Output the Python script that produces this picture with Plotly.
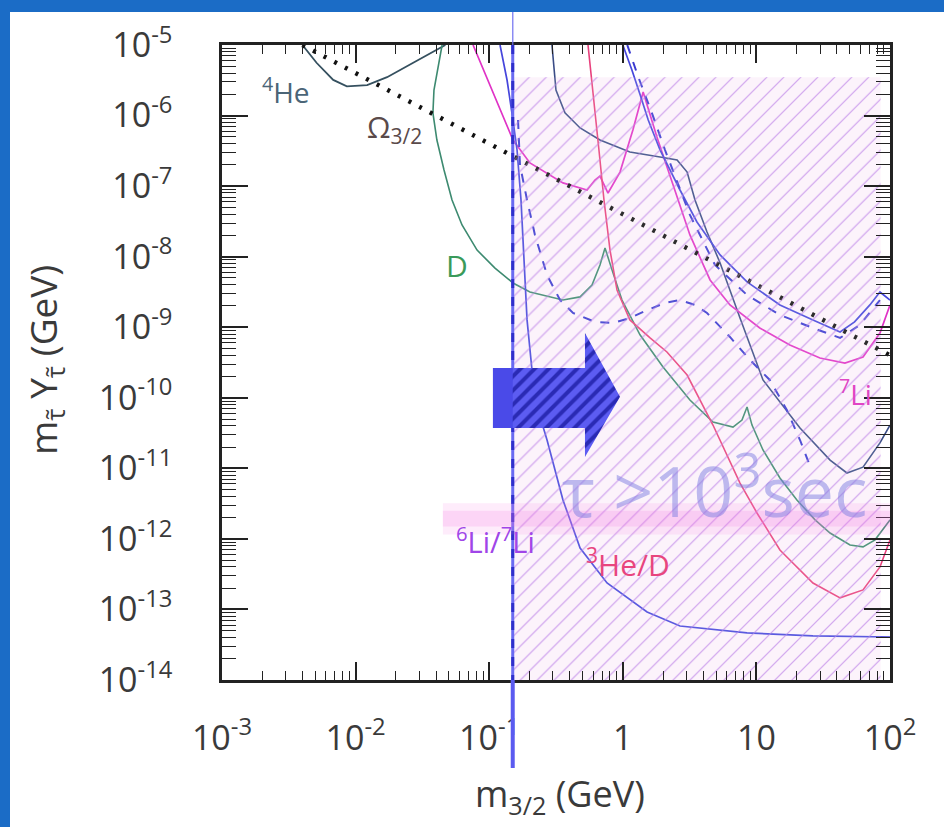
import math
import plotly.graph_objects as go

# ---------------- data ----------------
x_tick_vals = [1e-3, 1e-2, 1e-1, 1, 10, 100]
x_tick_text = ["10<sup>-3</sup>", "10<sup>-2</sup>", "10<sup>-1</sup>", "1", "10", "10<sup>2</sup>"]
y_tick_vals = [1e-5, 1e-6, 1e-7, 1e-8, 1e-9, 1e-10, 1e-11, 1e-12, 1e-13, 1e-14]
y_tick_text = ["10<sup>-5</sup>", "10<sup>-6</sup>", "10<sup>-7</sup>", "10<sup>-8</sup>", "10<sup>-9</sup>",
               "10<sup>-10</sup>", "10<sup>-11</sup>", "10<sup>-12</sup>", "10<sup>-13</sup>", "10<sup>-14</sup>"]

he4_x = [0.0040, 0.0051, 0.0068, 0.0086, 0.0122, 0.0172, 0.027, 0.047]
he4_y = [1.0e-5, 5.6e-6, 3.2e-6, 2.6e-6, 2.7e-6, 3.5e-6, 5.6e-6, 1.0e-5]

omega_x = [0.004, 100]
omega_y = [1.0e-5, 4.0e-10]

d_x = [0.0444, 0.0386, 0.0379, 0.0406, 0.0459, 0.0527, 0.0626, 0.0811, 0.1105, 0.1507,
       0.2018, 0.3565, 0.479, 0.588, 0.675, 0.736, 0.830, 0.986, 1.345, 2.0,
       3.18, 4.73, 6.68, 7.80, 8.51, 9.27, 11.2, 15.0, 20.1, 27.5,
       35.6, 50.2, 62.8, 77.3, 100]
d_y = [1.0e-5, 2.3e-6, 1.09e-6, 4.5e-7, 1.69e-7, 6.35e-8, 2.81e-8, 1.24e-8, 6.9e-9, 4.24e-9,
       3.16e-9, 2.43e-9, 2.69e-9, 3.97e-9, 7.6e-9, 1.33e-8, 6.5e-9, 2.43e-9, 7.8e-10, 2.73e-10,
       9.3e-11, 4.54e-11, 3.85e-11, 4.84e-11, 7.4e-11, 4.1e-11, 1.82e-11, 7.3e-12, 3.56e-12, 1.86e-12,
       1.21e-12, 8.2e-13, 7.7e-13, 9.7e-13, 1.86e-12]

li7_x = [0.0757, 0.1014, 0.1313, 0.1507, 0.2018, 0.3565, 0.540, 0.619, 0.675, 0.723,
         0.775, 0.953, 1.19, 1.42, 1.80, 2.38, 3.18, 4.50, 6.34, 10.6,
         17.8, 29.9, 46.0, 62.8, 84.1, 100]
li7_y = [1.0e-5, 2.71e-6, 8.65e-7, 4.51e-7, 2.13e-7, 1.11e-7, 8.81e-8, 1.22e-7, 1.39e-7, 1.04e-7,
         7.98e-8, 1.58e-7, 6.24e-7, 2.16e-6, 4.97e-7, 1.04e-7, 2.03e-8, 4.68e-9, 2.07e-9, 9.75e-10,
         5.6e-10, 3.66e-10, 3.11e-10, 3.78e-10, 8.28e-10, 2.07e-9]

he3d_x = [0.549, 0.609, 0.663, 0.723, 0.802, 0.905, 1.13, 1.60, 2.14, 3.03,
          4.73, 7.54, 10.1, 15.0, 26.5, 42.3, 62.8, 84.1, 100]
he3d_y = [1.0e-5, 1.66e-6, 3.25e-7, 6.35e-8, 1.24e-8, 3.37e-9, 1.27e-9, 7.05e-10, 4.46e-10, 2.10e-10,
          4.11e-11, 6.19e-12, 2.33e-12, 6.97e-13, 2.37e-13, 1.46e-13, 1.89e-13, 4.0e-13, 9.66e-13]

had_x = [0.295, 0.316, 0.369, 0.479, 0.675, 1.13, 1.90, 2.55, 3.03, 3.47,
         4.27, 5.35, 7.54, 11.2, 21.2, 35.6, 47.6, 62.8, 84.1, 100]
had_y = [1.0e-5, 2.3e-6, 1.09e-6, 6.67e-7, 4.51e-7, 3.05e-7, 2.59e-7, 2.34e-7, 1.58e-7, 6.35e-8,
         2.24e-8, 8.13e-9, 1.35e-9, 1.79e-10, 3.73e-11, 1.31e-11, 8.59e-12, 1.04e-11, 2.29e-11, 4.11e-11]

blue_x = [1.0, 1.17, 1.35, 1.55, 1.90, 2.68, 3.59, 5.35, 8.51, 15.0, 26.5, 42.3, 54.3, 70.7, 84.1, 100]
blue_y = [1.0e-5, 4.43e-6, 1.95e-6, 8.65e-7, 3.25e-7, 8.81e-8, 3.10e-8, 1.06e-8, 4.38e-9, 2.07e-9,
          1.27e-9, 8.57e-10, 1.19e-9, 2.07e-9, 3.16e-9, 2.43e-9]

bluedash_x = [1.08, 1.30, 1.62, 2.07, 3.18, 4.90, 8.51, 15.0, 26.5, 42.3, 59.6, 84.1]
bluedash_y = [1.0e-5, 3.6e-6, 1.2e-6, 3.25e-7, 3.90e-8, 7.62e-9, 2.86e-9, 1.49e-9, 9.75e-10, 7.05e-10, 1.08e-9, 2.43e-9]

wave_x = [0.1644, 0.170, 0.192, 0.220, 0.271, 0.339, 0.424, 0.619, 0.845, 1.13,
          1.52, 2.07, 2.68, 3.47, 4.27, 6.34, 8.96, 12.6, 16.9, 21.2, 25.0]
wave_y = [8.65e-7, 1.99e-7, 6.35e-8, 2.03e-8, 5.5e-9, 2.43e-9, 1.59e-9, 1.19e-9, 1.15e-9, 1.35e-9,
          1.75e-9, 2.21e-9, 2.43e-9, 2.07e-9, 1.59e-9, 7.28e-10, 3.43e-10, 1.79e-10, 6.71e-11, 2.52e-11, 1.12e-11]

li6_x = [0.1205, 0.136, 0.148, 0.1616, 0.173, 0.182, 0.192, 0.209, 0.232, 0.271,
         0.3565, 0.479, 0.762, 1.52, 2.68, 8.51, 26.5, 100]
li6_y = [1.0e-5, 3.19e-6, 1.09e-6, 3.25e-7, 6.35e-8, 8.97e-9, 1.27e-9, 2.48e-10, 6.71e-11, 2.52e-11,
         3.56e-12, 7.43e-13, 2.37e-13, 9.2e-14, 5.83e-14, 4.65e-14, 4.21e-14, 4.07e-14]

# lifetime bound (tau > 10^3 s) at m_3/2 ~ 0.15 GeV
bound_x = [0.15, 0.15]
bound_y = [1.0e-5, 1.0e-14]

hatch_x = [0.15, 85, 85, 0.15, 0.15]
hatch_y = [1.0e-14, 1.0e-14, 3.5e-6, 3.5e-6, 1.0e-14]

arrow_x = [0.1067, 0.521, 0.521, 0.953, 0.521, 0.521, 0.1067, 0.1067]
arrow_y = [2.64e-10, 2.64e-10, 8.28e-10, 1.03e-10, 1.45e-11, 3.73e-11, 3.73e-11, 2.64e-10]

# labels: (text, x, y, color, size)
labels = [
    ("<sup>4</sup>He", 0.0030, 2.3e-6, "#4b6577", 28),
    ("Ω<sub>3/2</sub>", 0.0197, 6.7e-7, "#5a4a4a", 30),
    ("D", 0.0570, 7.6e-9, "#3a9a5a", 30),
    ("<sup>6</sup>Li/<sup>7</sup>Li", 0.112, 9.7e-13, "#a045e8", 29),
    ("<sup>7</sup>Li", 54.7, 1.17e-10, "#e045c4", 28),
    ("<sup>3</sup>He/D", 1.10, 4.6e-13, "#e8457e", 30),
]
tau_label = ("τ >10<sup>3</sup>sec", 4.9, 5.4e-12)

# ---------------- figure ----------------
L, R, T, B = 222, 890, 45, 680
W, H = 944, 827


def pxx(p):
    return (p - L) / (R - L)


def pxy(p):
    return (B - p) / (B - T)


fig = go.Figure()


def curve(x, y, color, width=1.6, dash="solid"):
    fig.add_trace(go.Scatter(x=x, y=y, mode="lines", line=dict(color=color, width=width, dash=dash),
                             hoverinfo="skip", showlegend=False))


# hatched excluded region (background)
fig.add_trace(go.Scatter(
    x=hatch_x, y=hatch_y, mode="lines", line=dict(width=0), fill="toself",
    fillpattern=dict(shape="/", size=12, solidity=0.09, fgcolor="rgba(205,160,235,0.9)",
                     bgcolor="rgba(253,244,252,1)", fillmode="replace"),
    hoverinfo="skip", showlegend=False))

curve(he4_x, he4_y, "#35505f", 1.8)
curve(d_x, d_y, "#3d8a70", 1.6)
curve(had_x, had_y, "#3a4c86", 1.6)
curve(li7_x, li7_y, "#e032c6", 1.7)
curve(he3d_x, he3d_y, "#e8407c", 1.6)
curve(blue_x, blue_y, "#4646dc", 1.7)
curve(bluedash_x, bluedash_y, "#3a3ad0", 2.0, "dash")
curve(wave_x, wave_y, "#3a3ad0", 2.0, "dash")
curve(li6_x, li6_y, "#4646dc", 1.7)
curve(omega_x, omega_y, "#111111", 4.5, "3px,9px")

# light wash of the hatch over the curves
fig.add_trace(go.Scatter(
    x=hatch_x, y=hatch_y, mode="lines", line=dict(width=0), fill="toself",
    fillpattern=dict(shape="/", size=12, solidity=0.09, fgcolor="rgba(205,160,235,0.5)",
                     bgcolor="rgba(253,244,252,0.12)", fillmode="replace"),
    hoverinfo="skip", showlegend=False))

# vertical bound line
curve(bound_x, bound_y, "#6a6af2", 3.0)
curve(bound_x, bound_y, "#2f2fcc", 3.0, "dash")

# arrow
fig.add_trace(go.Scatter(
    x=arrow_x, y=arrow_y, mode="lines", line=dict(width=0), fill="toself",
    fillpattern=dict(shape="/", size=10, solidity=0.4, fgcolor="#2a2ab4",
                     bgcolor="#5c5cf2", fillmode="replace"),
    hoverinfo="skip", showlegend=False))

shapes = []
shapes.append(dict(type="rect", xref="x", yref="y", x0=arrow_x[0], x1=bound_x[0],
                   y0=arrow_y[5], y1=arrow_y[0], fillcolor="#4a4ae8", line=dict(width=0), layer="above"))
# pink horizontal band
shapes.append(dict(type="rect", xref="x", yref="y", x0=0.045, x1=100, y0=1.15e-12, y1=3.2e-12,
                   fillcolor="rgba(245,120,225,0.14)", line=dict(width=0), layer="above"))
shapes.append(dict(type="rect", xref="x", yref="y", x0=0.045, x1=100, y0=1.5e-12, y1=2.5e-12,
                   fillcolor="rgba(245,110,225,0.18)", line=dict(width=0), layer="above"))
# extension of the bound line outside the frame
shapes.append(dict(type="line", xref="x", yref="paper", x0=bound_x[0], x1=bound_x[0],
                   y0=pxy(768), y1=0, line=dict(color="#5b5bf0", width=4)))
shapes.append(dict(type="line", xref="x", yref="paper", x0=bound_x[0], x1=bound_x[0],
                   y0=1, y1=pxy(0), line=dict(color="rgba(110,110,240,0.8)", width=1.5)))
# blue slide frame
shapes.append(dict(type="rect", xref="paper", yref="paper", x0=pxx(-5), x1=pxx(10),
                   y0=pxy(H + 5), y1=pxy(-5), fillcolor="#1b6cc6", line=dict(width=0)))
shapes.append(dict(type="rect", xref="paper", yref="paper", x0=pxx(-5), x1=pxx(W + 5),
                   y0=pxy(12), y1=pxy(-5), fillcolor="#1b6cc6", line=dict(width=0)))

annotations = []
for txt, lx, ly, col, sz in labels:
    annotations.append(dict(text=txt, x=math.log10(lx), y=math.log10(ly), xref="x", yref="y",
                            xanchor="center", yanchor="middle",
                            showarrow=False, font=dict(size=sz, color=col, family="Open Sans")))
annotations.append(dict(text=tau_label[0], x=math.log10(tau_label[1]), y=math.log10(tau_label[2]),
                        xref="x", yref="y", xanchor="center", yanchor="middle", showarrow=False,
                        font=dict(size=70, color="rgba(125,125,225,0.5)", family="Open Sans")))
# axis titles
annotations.append(dict(text="m<sub>3/2</sub> (GeV)", x=pxx(560), y=pxy(795), xref="paper", yref="paper",
                        xanchor="center", yanchor="middle",
                        showarrow=False, font=dict(size=36, color="#3a3a3a", family="Open Sans")))
annotations.append(dict(text="m<sub>τ̃</sub> Y<sub>τ̃</sub> (GeV)", x=pxx(45), y=pxy(360),
                        xref="paper", yref="paper", textangle=-90, xanchor="center", yanchor="middle",
                        showarrow=False, font=dict(size=37, color="#3a3a3a", family="Open Sans")))

x_minor = [m * 10.0 ** e for e in range(-3, 2) for m in range(2, 10)]
y_minor = [m * 10.0 ** e for e in range(-14, -5) for m in range(2, 10)]

fig.update_layout(
    width=W, height=H,
    margin=dict(l=L, r=W - R, t=T, b=H - B),
    paper_bgcolor="white", plot_bgcolor="white",
    showlegend=False,
    shapes=shapes, annotations=annotations,
    font=dict(family="Open Sans", color="#3a3a3a"),
)
fig.update_xaxes(type="log", range=[-3, 2], tickmode="array", tickvals=x_tick_vals, ticktext=x_tick_text,
                 ticks="inside", ticklen=18, tickwidth=1.5, tickcolor="#222",
                 showline=True, linecolor="#222", linewidth=2.5, mirror="ticks",
                 showgrid=False, zeroline=False, tickfont=dict(size=34, color="#3a3a3a"),
                 ticklabelstandoff=26,
                 minor=dict(tickmode="array", tickvals=x_minor, ticks="inside", ticklen=9,
                            tickwidth=1.2, tickcolor="#222", showgrid=False))
fig.update_yaxes(type="log", range=[-14, -5], tickmode="array", tickvals=y_tick_vals, ticktext=y_tick_text,
                 ticks="inside", ticklen=26, tickwidth=1.5, tickcolor="#222",
                 showline=True, linecolor="#222", linewidth=2.5, mirror="ticks",
                 showgrid=False, zeroline=False, tickfont=dict(size=34, color="#3a3a3a"),
                 ticklabelstandoff=40,
                 minor=dict(tickmode="array", tickvals=y_minor, ticks="inside", ticklen=14,
                            tickwidth=1.2, tickcolor="#222", showgrid=False))

fig.write_html("out.html", config={"displayModeBar": False},
               post_script="document.body.style.margin='0px';document.body.style.padding='0px';")
